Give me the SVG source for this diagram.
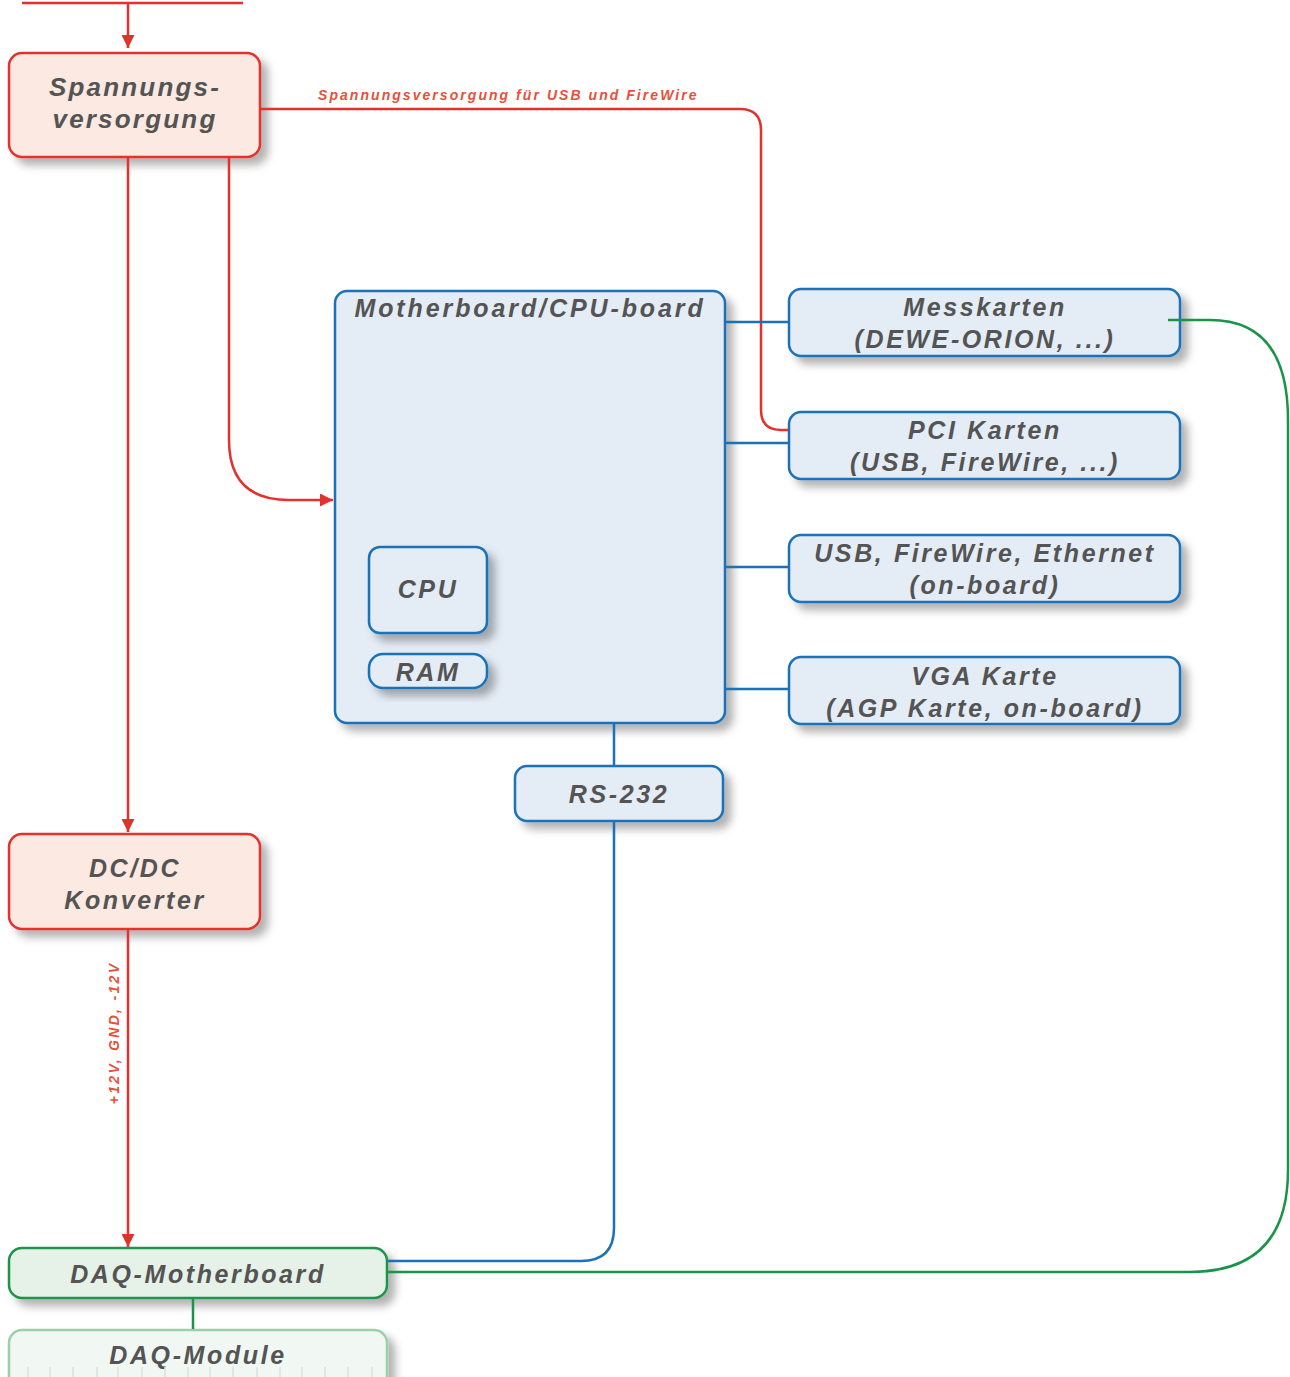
<svg xmlns="http://www.w3.org/2000/svg" width="1290" height="1377" viewBox="0 0 1290 1377">
<defs>
<filter id="sh" x="-20%" y="-20%" width="150%" height="160%">
<feDropShadow dx="7" dy="7" stdDeviation="4" flood-color="#000" flood-opacity="0.3"/>
</filter>
<marker id="ar" viewBox="0 0 10 10" refX="10" refY="5" markerWidth="13" markerHeight="13" markerUnits="userSpaceOnUse" orient="auto">
<path d="M0,0 L10,5 L0,10 z" fill="#e3312d"/>
</marker>
<style>
.t{font-family:"Liberation Sans",Arial,sans-serif;font-weight:bold;font-style:italic;fill:#545454;text-anchor:middle;letter-spacing:2.6px}
.big{font-size:25px}
.red{fill:#fce9e1;stroke:#e3312d;stroke-width:2.5}
.blue{fill:#e4ecf6;stroke:#1a72b8;stroke-width:2.5}
.grn{fill:#e6f1e8;stroke:#1a9448;stroke-width:2.5}
.grn2{fill:#f1f7f2;stroke:#9bd0a8;stroke-width:2.5}
.cr{fill:none;stroke:#e3312d;stroke-width:2.5}
.cb{fill:none;stroke:#1a72b8;stroke-width:2.5}
.cg{fill:none;stroke:#1a9448;stroke-width:2.5}
.lbl{font-family:"Liberation Sans",Arial,sans-serif;font-weight:bold;font-style:italic;fill:#e8503a;font-size:14px;letter-spacing:2.05px}
</style>
</defs>
<g id="spannungsversorgung">
<rect x="9" y="53" width="251" height="104" rx="13" class="red" filter="url(#sh)"/>
<text class="t" font-size="26" x="135" y="96" style="letter-spacing:2.2px">Spannungs-</text>
<text class="t" font-size="26" x="135" y="128" style="letter-spacing:2.2px">versorgung</text>
</g>
<g id="motherboard">
<rect x="335" y="291" width="390" height="432" rx="12" class="blue" filter="url(#sh)"/>
<text class="t big" x="530" y="317" style="letter-spacing:2.9px">Motherboard/CPU-board</text>
</g>
<g id="cpu">
<rect x="369" y="547" width="118" height="86" rx="11" class="blue" filter="url(#sh)"/>
<text class="t big" x="428" y="598">CPU</text>
</g>
<g id="ram">
<rect x="369" y="654" width="118" height="34" rx="14" class="blue" filter="url(#sh)"/>
<text class="t big" x="428" y="681">RAM</text>
</g>
<g id="messkarten">
<rect x="789" y="289" width="391" height="67" rx="12" class="blue" filter="url(#sh)"/>
<text class="t big" x="985" y="316">Messkarten</text>
<text class="t big" x="985" y="348">(DEWE-ORION, ...)</text>
</g>
<g id="pci">
<rect x="789" y="412" width="391" height="67" rx="12" class="blue" filter="url(#sh)"/>
<text class="t big" x="985" y="439">PCI Karten</text>
<text class="t big" x="985" y="471">(USB, FireWire, ...)</text>
</g>
<g id="usb">
<rect x="789" y="535" width="391" height="67" rx="12" class="blue" filter="url(#sh)"/>
<text class="t big" x="985" y="562">USB, FireWire, Ethernet</text>
<text class="t big" x="985" y="594">(on-board)</text>
</g>
<g id="vga">
<rect x="789" y="657" width="391" height="67" rx="12" class="blue" filter="url(#sh)"/>
<text class="t big" x="985" y="685">VGA Karte</text>
<text class="t big" x="985" y="717">(AGP Karte, on-board)</text>
</g>
<g id="rs232">
<rect x="515" y="766" width="208" height="55" rx="12" class="blue" filter="url(#sh)"/>
<text class="t big" x="619" y="803">RS-232</text>
</g>
<g id="dcdc">
<rect x="9" y="834" width="251" height="95" rx="13" class="red" filter="url(#sh)"/>
<text class="t big" x="135" y="877">DC/DC</text>
<text class="t big" x="135" y="909">Konverter</text>
</g>
<g id="daq-motherboard">
<rect x="9" y="1248" width="378" height="50" rx="13" class="grn" filter="url(#sh)"/>
<text class="t big" x="198" y="1283">DAQ-Motherboard</text>
</g>
<g id="daq-module">
<rect x="9" y="1330" width="378" height="62" rx="13" class="grn2" filter="url(#sh)"/>
<text class="t big" x="198" y="1364">DAQ-Module</text>
<path d="M28,1367v10M50,1367v10M73,1367v10M97,1367v10M118,1367v10M142,1367v10M165,1367v10M188,1367v10M210,1367v10M233,1367v10M257,1367v10M280,1367v10M302,1367v10M325,1367v10M348,1367v10M372,1367v10" stroke="#d8e2da" stroke-width="1.5"/>
</g>
<g id="connectors">
<line x1="22" y1="3" x2="243" y2="3" class="cr"/>
<line x1="128" y1="3" x2="128" y2="48" class="cr" marker-end="url(#ar)"/>
<path d="M261,109 H740 Q761,109 761,130 V410 Q761,430 781,430 H788" class="cr"/>
<line x1="128" y1="158" x2="128" y2="832" class="cr" marker-end="url(#ar)"/>
<path d="M229,158 V440 Q229,500 289,500 H333" class="cr" marker-end="url(#ar)"/>
<line x1="128" y1="930" x2="128" y2="1247" class="cr" marker-end="url(#ar)"/>
<line x1="726" y1="322" x2="788" y2="322" class="cb"/>
<line x1="726" y1="443" x2="788" y2="443" class="cb"/>
<line x1="726" y1="567" x2="788" y2="567" class="cb"/>
<line x1="726" y1="689" x2="788" y2="689" class="cb"/>
<line x1="614" y1="724" x2="614" y2="765" class="cb"/>
<path d="M614,822 V1228 Q614,1261 581,1261 H388" class="cb"/>
<path d="M1168,320 H1210 Q1288,320 1288,420 V1170 Q1288,1272 1190,1272 H388" class="cg"/>
<line x1="193" y1="1299" x2="193" y2="1329" class="cg"/>
<text class="lbl" x="318" y="100">Spannungsversorgung für USB und FireWire</text>
<text class="lbl" transform="translate(119,1033) rotate(-90)" text-anchor="middle" style="letter-spacing:2.3px">+12V, GND, -12V</text>
</g>
</svg>
